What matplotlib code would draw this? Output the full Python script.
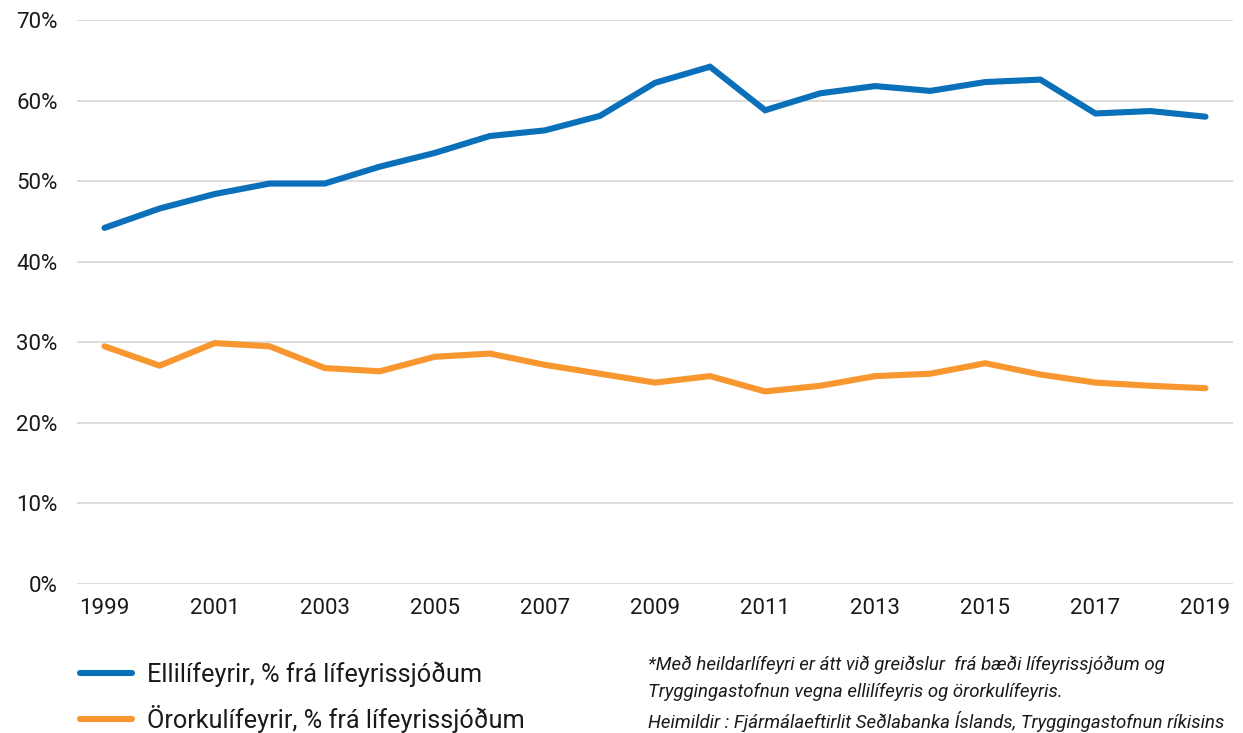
import matplotlib
matplotlib.use("Agg")
import matplotlib.pyplot as plt
from matplotlib.lines import Line2D

years = [str(y) for y in range(1999, 2020)]
elli = [44.2, 46.6, 48.4, 49.7, 49.7, 51.8, 53.5, 55.6, 56.3, 58.1, 62.2,
        64.2, 58.8, 60.9, 61.8, 61.2, 62.3, 62.6, 58.4, 58.7, 58.0]
oror = [29.5, 27.1, 29.9, 29.5, 26.8, 26.4, 28.2, 28.6, 27.2, 26.1, 25.0,
        25.8, 23.9, 24.6, 25.8, 26.1, 27.4, 26.0, 25.0, 24.6, 24.3]
series_labels = ["Ellilífeyrir, % frá lífeyrissjóðum",
                 "Örorkulífeyrir, % frá lífeyrissjóðum"]
yticks = [0, 10, 20, 30, 40, 50, 60, 70]
footnote = ["*Með heildarlífeyri er átt við greiðslur  frá bæði lífeyrissjóðum og",
            "Tryggingastofnun vegna ellilífeyris og örorkulífeyris.",
            "Heimildir : Fjármálaeftirlit Seðlabanka Íslands, Tryggingastofnun ríkisins"]

BLUE = "#0b70ba"
ORANGE = "#f8962f"

plt.rcParams['font.family'] = ['Roboto', 'DejaVu Sans']

fig = plt.figure(figsize=(12.43, 7.33), dpi=100)
ax = fig.add_axes([77/1243, 1-584/733, (1233-77)/1243, (584-20)/733])

x = list(range(len(years)))
ax.plot(x, elli, color=BLUE, lw=4.4, solid_capstyle='round', solid_joinstyle='miter', zorder=3)
ax.plot(x, oror, color=ORANGE, lw=4.4, solid_capstyle='round', solid_joinstyle='miter', zorder=3)

ax.set_xlim(-0.5, len(years) - 0.5)
ax.set_ylim(0, 70)
ax.set_yticks(yticks)
ax.set_yticklabels([f"{v}%" for v in yticks])
ax.set_xticks(x[::2])
ax.set_xticklabels(years[::2])
ax.grid(axis='y', color='#d9d9d9', lw=1.3)
ax.set_axisbelow(True)
for s in ax.spines.values():
    s.set_visible(False)
ax.tick_params(axis='both', length=0, labelsize=16, colors='#1a1a1a')
ax.tick_params(axis='y', pad=14)
ax.tick_params(axis='x', pad=10)

handles = [Line2D([], [], color=BLUE, lw=4.4, solid_capstyle='round'),
           Line2D([], [], color=ORANGE, lw=4.4, solid_capstyle='round')]
fig.legend(handles, series_labels, loc='center left',
           bbox_to_anchor=(80/1243, 1-697/733), frameon=False, fontsize=18.2,
           handlelength=2.05, handletextpad=0.6, labelspacing=0.72,
           borderpad=0, borderaxespad=0, labelcolor='#1a1a1a')

for i, (line, yy) in enumerate(zip(footnote, [665, 692, 722])):
    fig.text(648/1243, 1-yy/733, line, fontsize=13.4, style='italic',
             fontweight='normal', color='#1a1a1a', va='center', ha='left')

fig.savefig("out.png", dpi=100)
